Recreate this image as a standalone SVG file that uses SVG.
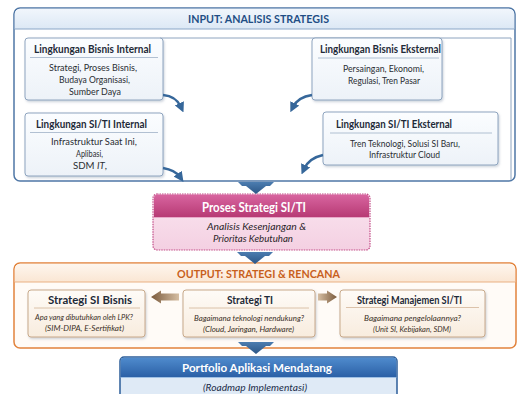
<svg xmlns="http://www.w3.org/2000/svg" width="517" height="394" viewBox="0 0 517 394">
<defs>
<linearGradient id="gInHead" x1="0" y1="0" x2="0" y2="1"><stop offset="0" stop-color="#f1f6fc"/><stop offset="1" stop-color="#dce8f5"/></linearGradient>
<linearGradient id="gBox" x1="0" y1="0" x2="0" y2="1"><stop offset="0" stop-color="#fbfdff"/><stop offset="1" stop-color="#edf2f8"/></linearGradient>
<linearGradient id="gOutHead" x1="0" y1="0" x2="0" y2="1"><stop offset="0" stop-color="#fef6ee"/><stop offset="1" stop-color="#fae6d3"/></linearGradient>
<linearGradient id="gOBox" x1="0" y1="0" x2="0" y2="1"><stop offset="0" stop-color="#fefbf7"/><stop offset="1" stop-color="#f8ecde"/></linearGradient>
<linearGradient id="gProc" x1="0" y1="0" x2="0" y2="1"><stop offset="0" stop-color="#d865a0"/><stop offset="1" stop-color="#b73a74"/></linearGradient>
<linearGradient id="gProcBody" x1="0" y1="0" x2="0" y2="1"><stop offset="0" stop-color="#fae6f0"/><stop offset="1" stop-color="#f4d0e2"/></linearGradient>
<linearGradient id="gPort" x1="0" y1="0" x2="0" y2="1"><stop offset="0" stop-color="#4f8bcd"/><stop offset="1" stop-color="#2b60a6"/></linearGradient>
<linearGradient id="gDown" x1="0" y1="0" x2="0" y2="1"><stop offset="0" stop-color="#4c7db0"/><stop offset="1" stop-color="#2c5686"/></linearGradient>
<linearGradient id="gBrL" x1="0" y1="0" x2="1" y2="0"><stop offset="0" stop-color="#7a5a3c"/><stop offset="1" stop-color="#d6bea2"/></linearGradient>
<linearGradient id="gBrR" x1="0" y1="0" x2="1" y2="0"><stop offset="0" stop-color="#d6bea2"/><stop offset="1" stop-color="#7a5a3c"/></linearGradient>
<filter id="sh" x="-10%" y="-10%" width="120%" height="130%"><feDropShadow dx="1" dy="1.5" stdDeviation="1.2" flood-color="#6a7f98" flood-opacity="0.35"/></filter>
<marker id="ah" viewBox="0 0 10 10" refX="4" refY="5" markerWidth="10" markerHeight="10" markerUnits="userSpaceOnUse" orient="auto"><path d="M0,0 L10,5 L0,10 z" fill="#36679a"/></marker>
<path id="downArrow" d="M-18,0 H18 L14,4 H10 L0,12 L-10,4 H-14 Z"/>
</defs>
<style>
text{font-family:Lato,"Liberation Sans",sans-serif}
.hd{font-weight:700;font-size:11.5px;text-anchor:middle}
.t{font-weight:700;font-size:10.5px;fill:#1e2a38;text-anchor:middle}
.b{font-size:9px;fill:#2a2e33;text-anchor:middle}
.i{font-style:italic;font-size:8px;fill:#3a3027;text-anchor:middle}
.box{fill:url(#gBox);stroke:#8ea4bf;stroke-width:1;filter:url(#sh)}
.obox{fill:url(#gOBox);stroke:#c8a98a;stroke-width:1;filter:url(#sh)}
.ul{stroke:#9fb1c6;stroke-width:0.8}
.oul{stroke:#d3b598;stroke-width:0.8}
.cur{fill:none;stroke:#36679a;stroke-width:2.6;marker-end:url(#ah)}
.down{fill:url(#gDown)}
</style>

<!-- INPUT frame -->
<g id="input">
<rect x="14" y="8" width="501" height="173" rx="6" fill="#ffffff" stroke="#4f77a6" stroke-width="1.5"/>
<path d="M14.75,29 V14 a5.25,5.25 0 0 1 5.25,-5.25 H509 a5.25,5.25 0 0 1 5.25,5.25 V29 Z" fill="url(#gInHead)"/>
<line x1="14.75" y1="29" x2="514.25" y2="29" stroke="#8aa6c7" stroke-width="1"/>
<path d="M160,38 H511 V180" fill="none" stroke="#8ea4bf" stroke-width="1"/>
<text class="hd" x="258.5" y="23" fill="#1f4e85" textLength="141" lengthAdjust="spacingAndGlyphs">INPUT: ANALISIS STRATEGIS</text>
</g>

<g id="bisnis-internal">
<rect class="box" x="25" y="38" width="138" height="62" rx="3"/>
<text class="t" x="92.5" y="53" textLength="117" lengthAdjust="spacingAndGlyphs">Lingkungan Bisnis Internal</text>
<line class="ul" x1="30" y1="57.5" x2="158" y2="57.5"/>
<text class="b" x="93" y="71" textLength="88" lengthAdjust="spacingAndGlyphs">Strategi, Proses Bisnis,</text>
<text class="b" x="94.5" y="83" textLength="71" lengthAdjust="spacingAndGlyphs">Budaya Organisasi,</text>
<text class="b" x="95" y="95" textLength="52" lengthAdjust="spacingAndGlyphs">Sumber Daya</text>
</g>

<g id="siti-internal">
<rect class="box" x="25" y="113" width="138" height="63" rx="3"/>
<text class="t" x="91.5" y="127.5" textLength="111" lengthAdjust="spacingAndGlyphs">Lingkungan SI/TI Internal</text>
<line class="ul" x1="30" y1="132.5" x2="158" y2="132.5"/>
<text class="b" x="94" y="145" textLength="86" lengthAdjust="spacingAndGlyphs">Infrastruktur Saat Ini,</text>
<text class="b" x="89.5" y="157" textLength="27" lengthAdjust="spacingAndGlyphs">Aplibasi,</text>
<text class="b" x="90" y="169" textLength="34" lengthAdjust="spacingAndGlyphs">SDM <tspan font-style="italic">IT</tspan>,</text>
</g>

<g id="bisnis-eksternal">
<rect class="box" x="312" y="38" width="130" height="62" rx="3"/>
<text class="t" x="380.5" y="52.5" textLength="121" lengthAdjust="spacingAndGlyphs">Lingkungan Bisnis Eksternal</text>
<line class="ul" x1="318" y1="58" x2="439" y2="58"/>
<text class="b" x="383.5" y="72" textLength="81" lengthAdjust="spacingAndGlyphs">Persaingan, Ekonomi,</text>
<text class="b" x="384" y="83.5" textLength="72" lengthAdjust="spacingAndGlyphs">Regulasi, Tren Pasar</text>
</g>

<g id="siti-eksternal">
<rect class="box" x="323" y="112" width="175" height="53" rx="3"/>
<text class="t" x="394" y="128" textLength="116" lengthAdjust="spacingAndGlyphs">Lingkungan SI/TI Eksternal</text>
<line class="ul" x1="330" y1="133" x2="492" y2="133"/>
<text class="b" x="405" y="147" textLength="110" lengthAdjust="spacingAndGlyphs">Tren Teknologi, Solusi SI Baru,</text>
<text class="b" x="404.5" y="158" textLength="71" lengthAdjust="spacingAndGlyphs">Infrastruktur Cloud</text>
</g>

<!-- PROCESS -->
<g id="proses">
<rect x="153" y="194" width="217" height="56" rx="4" fill="url(#gProcBody)" stroke="#c24a86" stroke-width="1.2" stroke-dasharray="1.5 1"/>
<path d="M154,217 V198 a3.5,3.5 0 0 1 3.5,-3.5 H365.5 a3.5,3.5 0 0 1 3.5,3.5 V217 Z" fill="url(#gProc)"/>
<line x1="154" y1="217.5" x2="369" y2="217.5" stroke="#e8a8c8" stroke-width="1"/>
<text x="254" y="211.5" font-weight="700" font-size="12.5" fill="#ffffff" text-anchor="middle" textLength="104" lengthAdjust="spacingAndGlyphs">Proses Strategi SI/TI</text>
<text x="256.5" y="229.5" font-style="italic" font-size="10" fill="#2a1f28" text-anchor="middle" textLength="99" lengthAdjust="spacingAndGlyphs">Analisis Kesenjangan &amp;</text>
<text x="253" y="242" font-style="italic" font-size="10" fill="#2a1f28" text-anchor="middle" textLength="80" lengthAdjust="spacingAndGlyphs">Prioritas Kebutuhan</text>
</g>

<!-- OUTPUT frame -->
<g id="output">
<rect x="14" y="263" width="502" height="85" rx="6" fill="#fffbf7" stroke="#e2833c" stroke-width="1.5"/>
<path d="M14.75,282 V269 a5.25,5.25 0 0 1 5.25,-5.25 H510 a5.25,5.25 0 0 1 5.25,5.25 V282 Z" fill="url(#gOutHead)"/>
<line x1="14.75" y1="282" x2="515.25" y2="282" stroke="#eab184" stroke-width="1"/>
<text class="hd" x="258.5" y="277.5" fill="#c8601c" textLength="163" lengthAdjust="spacingAndGlyphs">OUTPUT: STRATEGI &amp; RENCANA</text>
</g>

<g id="strategi-si-bisnis">
<rect class="obox" x="28" y="290" width="117" height="47" rx="3"/>
<text class="t" x="90" y="303.5" fill="#3a2a1a" textLength="84" lengthAdjust="spacingAndGlyphs">Strategi SI Bisnis</text>
<line class="oul" x1="34" y1="308" x2="140" y2="308"/>
<text class="i" x="84" y="319.5" textLength="98" lengthAdjust="spacingAndGlyphs">Apa yang dibutuhkan oleh LPK?</text>
<text class="i" x="84.5" y="330.5" textLength="79" lengthAdjust="spacingAndGlyphs">(SIM-DIPA, E-Sertifikat)</text>
</g>

<g id="strategi-ti">
<rect class="obox" x="183" y="290" width="132" height="47" rx="3"/>
<text class="t" x="250" y="303.5" textLength="46" lengthAdjust="spacingAndGlyphs">Strategi TI</text>
<line class="oul" x1="189" y1="308" x2="309" y2="308"/>
<text class="i" x="249" y="320.5" textLength="110" lengthAdjust="spacingAndGlyphs">Bagaimana teknologi nendukung?</text>
<text class="i" x="248.5" y="332" textLength="91" lengthAdjust="spacingAndGlyphs">(Cloud, Jaringan, Hardware)</text>
</g>

<g id="strategi-manajemen">
<rect class="obox" x="340" y="290" width="145" height="47" rx="3"/>
<text class="t" x="409.5" y="303.5" textLength="105" lengthAdjust="spacingAndGlyphs">Strategi Manajemen SI/TI</text>
<line class="oul" x1="346" y1="307.5" x2="479" y2="307.5"/>
<text class="i" x="412.5" y="320.5" textLength="97" lengthAdjust="spacingAndGlyphs">Bagaimana pengelolaannya?</text>
<text class="i" x="412" y="331.5" textLength="78" lengthAdjust="spacingAndGlyphs">(Unit SI, Kebijakan, SDM)</text>
</g>

<!-- PORTFOLIO -->
<g id="portfolio">
<rect x="120" y="357" width="277" height="45" rx="4" fill="#dfeaf6" stroke="#2d5e99" stroke-width="1.5"/>
<path d="M120.75,377 V361 a3.25,3.25 0 0 1 3.25,-3.25 H393 a3.25,3.25 0 0 1 3.25,3.25 V377 Z" fill="url(#gPort)"/>
<line x1="120.75" y1="377.5" x2="396.25" y2="377.5" stroke="#9fc0e4" stroke-width="1"/>
<text x="257" y="372" font-weight="700" font-size="12" fill="#ffffff" text-anchor="middle" textLength="150" lengthAdjust="spacingAndGlyphs">Portfolio Aplikasi Mendatang</text>
<text x="255" y="390.5" font-style="italic" font-size="10" fill="#1d2d4a" text-anchor="middle" textLength="104" lengthAdjust="spacingAndGlyphs">(Roadmap Implementasi)</text>
</g>

<!-- CONNECTORS -->
<g id="connectors">
<path class="cur" d="M163,95 Q176,96 181,107"/>
<path class="cur" d="M163,168 Q175,170 180,177"/>
<path class="cur" d="M312,95 Q298,97 293,107"/>
<path class="cur" d="M323,155 Q309,158 304,169"/>
<use href="#downArrow" class="down" x="256" y="182"/>
<use href="#downArrow" class="down" x="255" y="252"/>
<use href="#downArrow" class="down" x="256" y="342"/>
<polygon points="151,297 161,290.5 161,293.5 179,293.5 179,300.5 161,300.5 161,303.5" fill="url(#gBrL)"/>
<polygon points="337,297 327,290.5 327,293.5 318,293.5 318,300.5 327,300.5 327,303.5" fill="url(#gBrR)"/>
</g>
</svg>
